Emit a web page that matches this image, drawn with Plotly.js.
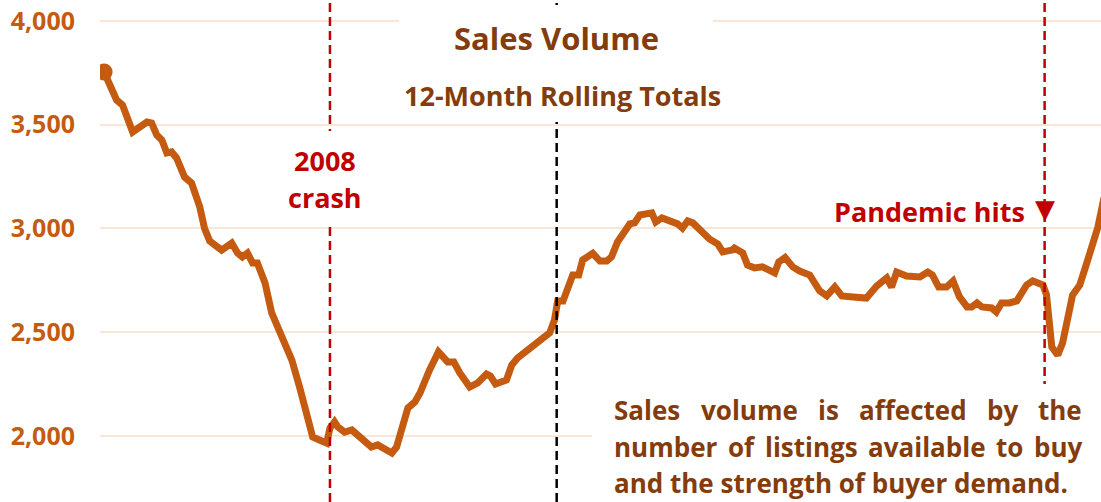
<!DOCTYPE html>
<html>
<head>
<meta charset="utf-8">
<script src="https://cdn.plot.ly/plotly-3.0.1.min.js"></script>
<style>html,body{margin:0;padding:0;background:#fff;}#chart{width:1101px;height:502px;}</style>
</head>
<body>
<div id="chart"></div>
<script>
// Month positions (dates) of traced points
const months = [
 "2005-02-01","2005-03-01","2005-04-15","2005-05-20","2005-07-18","2005-10-10","2005-11-06","2005-12-06",
 "2006-01-05","2006-02-03","2006-03-03","2006-04-01","2006-05-18","2006-06-28","2006-08-15","2006-09-12",
 "2006-10-12","2006-12-21","2007-02-18","2007-03-24","2007-04-21","2007-05-21","2007-06-20","2007-07-18",
 "2007-09-01","2007-10-10","2007-11-10","2007-12-12","2008-02-05","2008-03-21","2008-05-06","2008-06-06",
 "2008-07-15","2008-08-27","2008-09-15","2008-10-12","2008-11-01","2008-12-10","2009-01-21","2009-02-20",
 "2009-03-25","2009-05-15","2009-06-21","2009-07-20","2009-09-12","2009-10-10","2009-11-10","2009-12-15",
 "2010-01-25","2010-02-24","2010-04-21","2010-06-12","2010-08-05","2010-09-10","2010-10-15","2010-12-12",
 "2011-01-28","2011-03-20","2011-04-12","2011-05-12","2011-07-15","2011-08-15","2011-09-18","2011-11-01",
 "2011-12-15","2012-02-06","2012-03-24","2012-04-21","2012-05-10","2012-06-10","2012-08-06","2012-09-10",
 "2012-10-03","2012-12-01","2013-01-12","2013-02-21","2013-03-21","2013-04-25","2013-06-06","2013-07-06",
 "2013-08-03","2013-09-03","2013-11-12","2013-12-05","2014-01-10","2014-02-10","2014-03-12","2014-04-12",
 "2014-05-10","2014-06-10","2014-07-10","2014-09-01","2014-10-15","2014-12-03","2015-01-01","2015-02-24",
 "2015-03-10","2015-04-28","2015-05-26","2015-07-06","2015-08-21","2015-11-01","2015-11-25","2016-01-01",
 "2016-02-15","2016-03-26","2016-05-24","2016-07-21","2016-09-01","2016-10-18","2016-11-28","2017-02-01",
 "2017-04-21","2017-06-20","2017-08-18","2017-09-15","2017-10-15","2017-12-12","2018-02-28","2018-04-15",
 "2018-05-12","2018-06-18","2018-08-03","2018-09-10","2018-10-18","2018-12-01","2018-12-28","2019-01-28",
 "2019-02-26","2019-04-24","2019-05-21","2019-06-21","2019-08-06","2019-09-18","2019-11-15","2019-12-20",
 "2020-02-18","2020-03-10","2020-04-10","2020-05-15","2020-06-12","2020-08-10","2020-09-21","2020-11-01",
 "2020-12-01","2021-01-05","2021-02-10"
];
// 12-month rolling sales volume
const salesVolume = [
 3754,3701,3619,3595,3465,3513,3508,3451,
 3427,3364,3369,3340,3248,3219,3104,3000,
 2940,2896,2930,2882,2863,2882,2834,2834,
 2737,2593,2535,2463,2366,2236,2092,1995,
 1981,1966,2039,2068,2043,2019,2029,2005,
 1990,1947,1957,1942,1918,1947,2029,2135,
 2164,2207,2318,2405,2357,2357,2304,2236,
 2256,2299,2289,2251,2270,2342,2376,2405,
 2434,2463,2497,2559,2650,2650,2776,2776,
 2848,2880,2843,2843,2863,2935,2993,3022,
 3027,3065,3075,3031,3051,3041,3027,3022,
 3002,3036,3027,2978,2949,2925,2887,2896,
 2906,2882,2824,2810,2815,2786,2839,2860,
 2815,2795,2776,2700,2675,2718,2675,2670,
 2665,2723,2762,2718,2790,2771,2766,2790,
 2776,2718,2718,2747,2670,2622,2622,2641,
 2622,2617,2598,2641,2641,2651,2728,2747,
 2728,2680,2429,2390,2448,2680,2728,2834,
 2911,3007,3150
];
const yTicks = [2000, 2500, 3000, 3500, 4000];
const eventDates = {crash: "2008-09-15", recovery: "2012-05-04", pandemic: "2020-02-28"};
const noteLines = [
  "Sales volume is affected by the",
  "number of listings available to buy",
  "and the strength of buyer demand."
];

const ORANGE = "#c55a11", BROWN = "#843c0c", RED = "#c00000", GRID = "#fbe5d6";
const F = "Open Sans";

const traces = [
  {x: months, y: salesVolume, type: "scatter", mode: "lines",
   line: {color: ORANGE, width: 7, shape: "linear"}, hoverinfo: "skip"},
  {x: [months[0]], y: [salesVolume[0]], type: "scatter", mode: "markers",
   marker: {color: ORANGE, size: 17}, hoverinfo: "skip"}
];

function vline(x, color) {
  return {type: "line", xref: "x", yref: "paper", x0: x, x1: x, y0: 0, y1: 1,
          layer: "above", line: {color: color, width: 2.5, dash: "9px,5px"}};
}
function whiteRect(x0, x1, y0, y1) {
  return {type: "rect", xref: "paper", yref: "paper", x0: x0, x1: x1, y0: y0, y1: y1,
          layer: "above", fillcolor: "#ffffff", line: {width: 0}};
}
function txt(text, x, y, size, color, xanchor) {
  return {text: text, x: x, y: y, xref: "paper", yref: "paper", showarrow: false,
          xanchor: xanchor || "center", yanchor: "middle",
          font: {family: F, size: size, color: color, weight: 700}};
}
// paper helpers: px -> paper
const px = v => (v - 100) / 1001;
const py = v => 1 - v / 502;

// justified paragraph (word placement)
const ctx = document.createElement("canvas").getContext("2d");
ctx.font = "700 26px 'Open Sans'";
function justify(line, left, right, yPix, doJustify) {
  const words = line.split(" ");
  if (!doJustify) return [txt(line, px(left), py(yPix), 26, BROWN, "left")];
  const widths = words.map(w => ctx.measureText(w).width);
  const total = widths.reduce((a, b) => a + b, 0);
  const gap = (right - left - total) / (words.length - 1);
  let x = left;
  return words.map((w, i) => {
    const a = txt(w, px(x), py(yPix), 26, BROWN, "left");
    x += widths[i] + gap;
    return a;
  });
}

const noteAnns = [].concat(
  justify(noteLines[0], 612, 1080, 410, true),
  justify(noteLines[1], 612, 1080, 447, true),
  justify(noteLines[2], 612, 1080, 483, false)
);

const layout = {
  width: 1101, height: 502,
  margin: {l: 100, r: 0, t: 0, b: 0},
  paper_bgcolor: "#ffffff", plot_bgcolor: "#ffffff",
  showlegend: false,
  xaxis: {type: "date", range: ["2005-01-08", "2021-01-23"], visible: false, fixedrange: true},
  yaxis: {range: [1682, 4101], tickvals: yTicks, tickformat: ",", showgrid: true,
          gridcolor: GRID, gridwidth: 2, zeroline: false, showline: false, ticks: "",
          ticklabelstandoff: 24,
          tickfont: {family: F, size: 25, color: ORANGE, weight: 700}},
  shapes: [
    vline(eventDates.crash, RED),
    vline(eventDates.recovery, "#000000"),
    vline(eventDates.pandemic, RED),
    whiteRect(px(399), px(713), py(122), py(5)),
    whiteRect(px(272), px(385), py(226), py(131)),
    whiteRect(px(592), 1, 0, py(384))
  ],
  annotations: [
    txt("Sales Volume", px(556), py(38), 31, BROWN),
    txt("12-Month Rolling Totals", px(562), py(95), 27, BROWN),
    txt("2008", px(325), py(161), 27, RED),
    txt("crash", px(325), py(197), 27, RED),
    txt("Pandemic hits", px(929), py(211), 27, RED),
    {text: "▼", x: eventDates.pandemic, y: py(209), xref: "x", yref: "paper", showarrow: false,
     xanchor: "center", yanchor: "middle", font: {family: "DejaVu Sans", size: 26, color: RED}}
  ].concat(noteAnns)
};

Plotly.newPlot("chart", traces, layout, {staticPlot: true, displayModeBar: false});
</script>
</body>
</html>
